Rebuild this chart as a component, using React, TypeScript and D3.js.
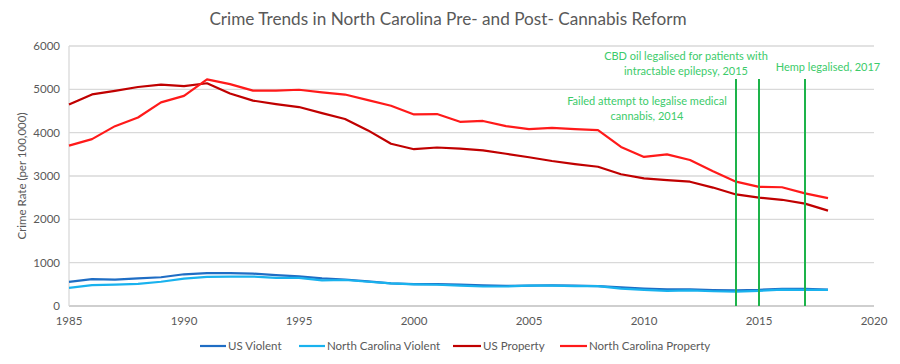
import React from "react";
import * as d3 from "d3";

const years = d3.range(1985, 2019);
const usViolent = [556, 620, 610, 637, 663, 732, 758, 758, 747, 714, 685, 637, 611, 568, 523, 507, 505, 494, 476, 463, 469, 479, 472, 458, 431, 404, 387, 387, 369, 362, 373, 398, 394, 381];
const ncViolent = [420, 480, 495, 510, 560, 630, 670, 680, 680, 650, 650, 590, 600, 560, 520, 500, 490, 470, 450, 450, 470, 470, 460, 460, 400, 370, 350, 360, 340, 330, 350, 380, 370, 370];
const usProperty = [4650, 4882, 4963, 5054, 5107, 5073, 5140, 4903, 4740, 4660, 4591, 4451, 4316, 4052, 3743, 3618, 3658, 3631, 3591, 3514, 3432, 3346, 3276, 3214, 3041, 2946, 2905, 2868, 2733, 2574, 2500, 2451, 2362, 2200];
const ncProperty = [3700, 3850, 4150, 4350, 4700, 4850, 5230, 5120, 4970, 4970, 4990, 4930, 4880, 4750, 4620, 4420, 4430, 4250, 4270, 4150, 4080, 4110, 4080, 4060, 3670, 3440, 3500, 3370, 3110, 2870, 2750, 2740, 2600, 2490];

const xTicks = [1985, 1990, 1995, 2000, 2005, 2010, 2015, 2020];
const yTicks = [0, 1000, 2000, 3000, 4000, 5000, 6000];

const series = [
  { name: "US Violent", values: usViolent, color: "#1F6DC4" },
  { name: "North Carolina Violent", values: ncViolent, color: "#19B2EE" },
  { name: "US Property", values: usProperty, color: "#C00000" },
  { name: "North Carolina Property", values: ncProperty, color: "#FF1A1A" },
];

const events = [
  { year: 2014, lines: ["Failed attempt to legalise medical", "cannabis, 2014"], tx: 647, ty: 101 },
  { year: 2015, lines: ["CBD oil legalised for patients with", "intractable epilepsy, 2015"], tx: 686, ty: 56 },
  { year: 2017, lines: ["Hemp legalised, 2017"], tx: 828, ty: 67 },
];

const font = "Lato, 'Open Sans', sans-serif";

export default function App() {
  const width = 900, height = 364;
  const x = d3.scaleLinear().domain([1985, 2020]).range([69, 874]);
  const y = d3.scaleLinear().domain([0, 6000]).range([306, 46]);
  const line = d3.line<number>().x((_, i) => x(years[i])).y(d => y(d));

  const legendPos = [
    { lx: 200, tx: 228 },
    { lx: 299, tx: 327 },
    { lx: 453, tx: 483 },
    { lx: 560, tx: 589 },
  ];

  return (
    <svg width={width} height={height} style={{ position: "absolute", left: 0, top: 0, fontFamily: font }}>
      <rect width={width} height={height} fill="#fff" />
      <text x={448} y={25} textAnchor="middle" fontSize={17.2} fill="#595959">
        Crime Trends in North Carolina Pre- and Post- Cannabis Reform
      </text>
      {/* grid */}
      <g>
        {yTicks.map(t => (
          <g key={t}>
            <line x1={69} x2={874} y1={y(t)} y2={y(t)} stroke={t === 0 ? "#bfbfbf" : "#d9d9d9"} strokeWidth={1.3} />
            <text x={60} y={y(t) + 4} textAnchor="end" fontSize={11.5} fill="#595959">{t}</text>
          </g>
        ))}
        <line x1={69} x2={69} y1={46} y2={306} stroke="#d9d9d9" strokeWidth={1.3} />
        {xTicks.map(t => (
          <text key={t} x={x(t)} y={325} textAnchor="middle" fontSize={11.5} fill="#595959">{t}</text>
        ))}
        <text transform={`translate(26,176) rotate(-90)`} textAnchor="middle" fontSize={11.5} fill="#595959">
          Crime Rate (per 100,000)
        </text>
      </g>
      {/* series */}
      {series.map(s => (
        <path key={s.name} d={line(s.values) || ""} fill="none" stroke={s.color} strokeWidth={2.2} strokeLinejoin="round" />
      ))}
      {/* events */}
      {events.map(e => (
        <g key={e.year}>
          <line x1={x(e.year)} x2={x(e.year)} y1={79} y2={306} stroke="#1DB34A" strokeWidth={2} />
          {e.lines.map((l, i) => (
            <text key={i} x={e.tx} y={e.ty + 4 + i * 15} textAnchor="middle" fontSize={11} fill="#3CCB6A">{l}</text>
          ))}
        </g>
      ))}
      {/* legend */}
      {series.map((s, i) => (
        <g key={s.name}>
          <line x1={legendPos[i].lx} x2={legendPos[i].tx - 2} y1={346} y2={346} stroke={s.color} strokeWidth={2.2} />
          <text x={legendPos[i].tx} y={350} fontSize={11.5} fill="#595959">{s.name}</text>
        </g>
      ))}
    </svg>
  );
}
